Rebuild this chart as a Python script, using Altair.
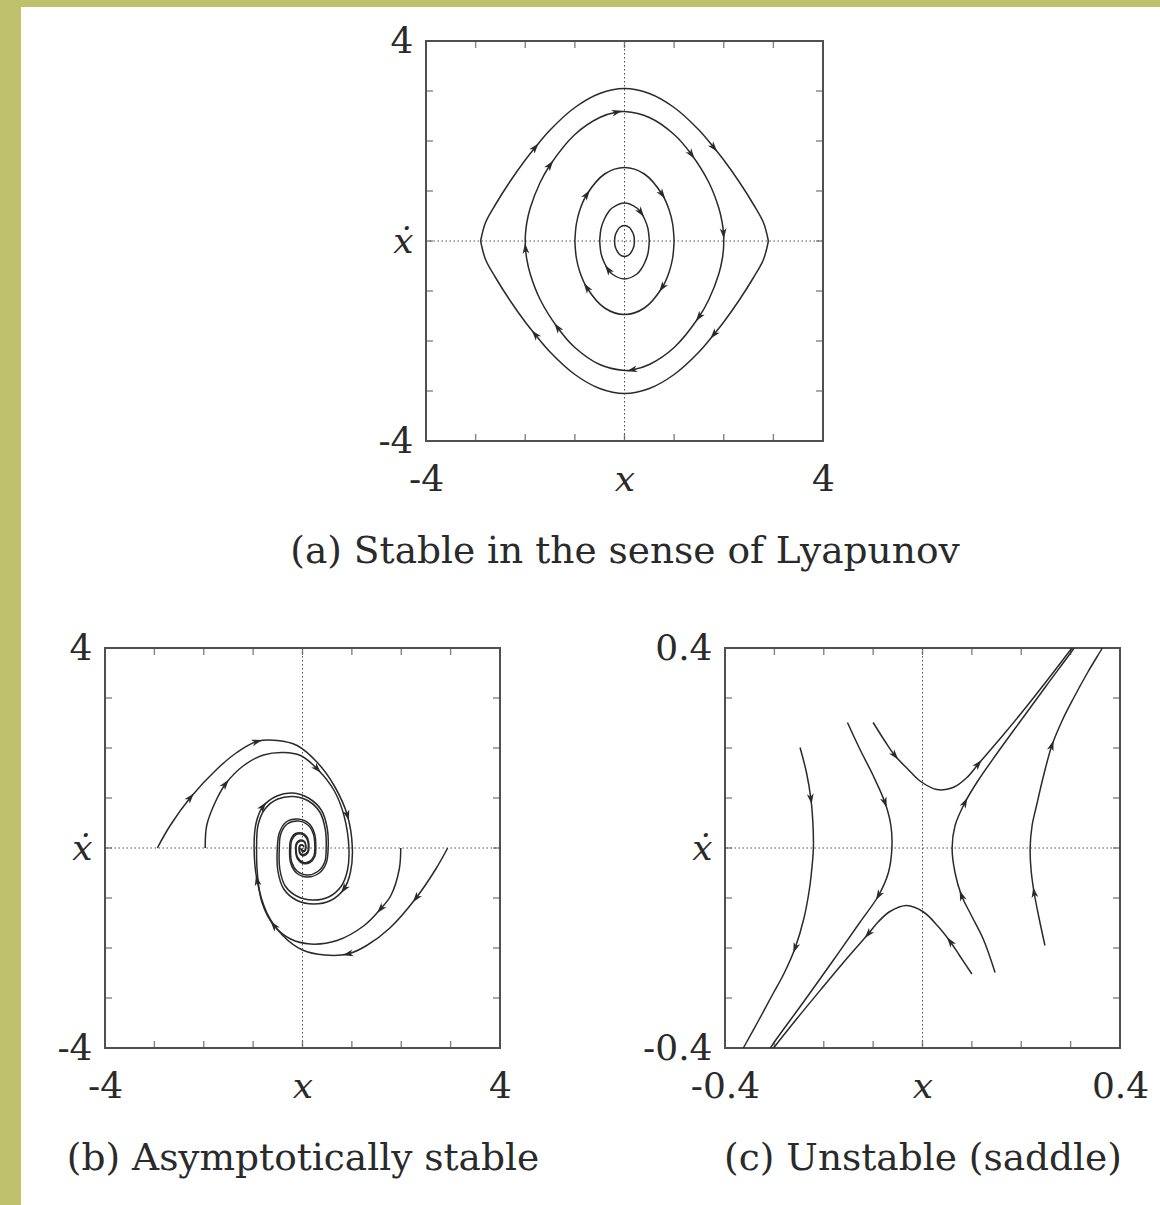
import math

import altair as alt
import pandas as pd

OLIVE = "#c0c16d"
INK = "#2a2a2a"
FRAME = "#505050"
FONT = "DejaVu Serif"
ARROW = "M1,0L-1,-0.65L-0.45,0L-1,0.65Z"

# ---------------------------------------------------------------- panel (a)
# closed orbits of an undamped pendulum, listed in the direction of motion
A1_UPPER = [(-2.9, 0.0), (-2.8, 0.37), (-2.6, 0.73), (-2.3, 1.20), (-2.0, 1.62), (-1.8, 1.87),
            (-1.5, 2.22), (-1.0, 2.67), (-0.5, 2.95), (0.0, 3.05), (0.5, 2.95), (1.0, 2.67),
            (1.5, 2.22), (1.8, 1.87), (2.0, 1.62), (2.3, 1.20), (2.6, 0.73), (2.8, 0.37), (2.9, 0.0)]
A1_LOWER = [(2.9, 0.0), (2.8, -0.37), (2.6, -0.73), (2.3, -1.20), (2.0, -1.62), (1.8, -1.87),
            (1.5, -2.22), (1.0, -2.67), (0.5, -2.95), (0.0, -3.05), (-0.5, -2.95), (-1.0, -2.67),
            (-1.5, -2.22), (-1.8, -1.87), (-2.0, -1.62), (-2.3, -1.20), (-2.6, -0.73), (-2.8, -0.37),
            (-2.9, 0.0)]
A2_UPPER = [(-2.0, 0.0), (-1.995, 0.15), (-1.97, 0.36), (-1.9, 0.66), (-1.7, 1.17), (-1.5, 1.52),
            (-1.0, 2.13), (-0.5, 2.47), (-0.15, 2.58), (0.0, 2.59), (0.5, 2.47), (1.0, 2.13),
            (1.35, 1.73), (1.7, 1.17), (1.9, 0.66), (1.97, 0.36), (1.995, 0.15), (2.0, 0.0)]
A2_LOWER = [(2.0, 0.0), (1.995, -0.15), (1.97, -0.36), (1.9, -0.66), (1.7, -1.17), (1.5, -1.52),
            (1.0, -2.13), (0.5, -2.47), (0.15, -2.58), (0.0, -2.59), (-0.5, -2.47), (-1.0, -2.13),
            (-1.35, -1.73), (-1.7, -1.17), (-1.9, -0.66), (-1.97, -0.36), (-1.995, -0.15), (-2.0, 0.0)]
A3_UPPER = [(-1.0, 0.0), (-0.97, 0.34), (-0.9, 0.62), (-0.76, 0.93), (-0.4, 1.34), (0.0, 1.47),
            (0.4, 1.34), (0.76, 0.93), (0.9, 0.62), (0.97, 0.34), (1.0, 0.0)]
A3_LOWER = [(1.0, 0.0), (0.97, -0.34), (0.9, -0.62), (0.76, -0.93), (0.4, -1.34), (0.0, -1.47),
            (-0.4, -1.34), (-0.76, -0.93), (-0.9, -0.62), (-0.97, -0.34), (-1.0, 0.0)]
A4_UPPER = [(-0.5, 0.0), (-0.47, 0.26), (-0.4, 0.45), (-0.33, 0.57), (-0.25, 0.66), (0.0, 0.76),
            (0.25, 0.66), (0.33, 0.57), (0.4, 0.45), (0.47, 0.26), (0.5, 0.0)]
A4_LOWER = [(0.5, 0.0), (0.47, -0.26), (0.4, -0.45), (0.33, -0.57), (0.25, -0.66), (0.0, -0.76),
            (-0.25, -0.66), (-0.33, -0.57), (-0.4, -0.45), (-0.47, -0.26), (-0.5, 0.0)]
A5_UPPER = [(-0.2, 0.0), (-0.19, 0.10), (-0.16, 0.18), (-0.1, 0.27), (0.0, 0.31), (0.1, 0.27),
            (0.16, 0.18), (0.19, 0.10), (0.2, 0.0)]
A5_LOWER = [(0.2, 0.0), (0.19, -0.10), (0.16, -0.18), (0.1, -0.27), (0.0, -0.31), (-0.1, -0.27),
            (-0.16, -0.18), (-0.19, -0.10), (-0.2, 0.0)]
A_ARROWS = [("a1u", 5), ("a1u", 13), ("a1l", 5), ("a1l", 13),
            ("a2u", 5), ("a2u", 8), ("a2u", 12), ("a2u", 16),
            ("a2l", 5), ("a2l", 8), ("a2l", 12), ("a2l", 16),
            ("a3u", 3), ("a3u", 7), ("a3l", 3), ("a3l", 7),
            ("a4u", 7), ("a4l", 7)]

# ---------------------------------------------------------------- panel (b)
# damped oscillator: four trajectories spiralling into the origin
B1 = [(-2.94, 0.0), (-2.68, 0.45), (-2.27, 1.01), (-1.73, 1.58), (-1.33, 1.91), (-0.92, 2.13),
      (-0.51, 2.15), (-0.11, 2.05), (0.30, 1.71), (0.64, 1.25), (0.91, 0.65), (1.01, 0.0),
      (0.97, -0.49), (0.84, -0.82), (0.57, -1.05), (0.23, -1.12), (-0.11, -1.05), (-0.38, -0.82),
      (-0.50, -0.45), (-0.51, 0.0), (-0.47, 0.30), (-0.33, 0.52), (-0.10, 0.58), (0.12, 0.50),
      (0.24, 0.30), (0.27, 0.0), (0.25, -0.17), (0.15, -0.29), (0.02, -0.31), (-0.10, -0.22),
      (-0.14, 0.0), (-0.12, 0.10), (-0.04, 0.16), (0.04, 0.13), (0.07, 0.0), (0.05, -0.06),
      (0.0, -0.07), (-0.03, -0.03), (-0.03, 0.0)]
B2 = [(-1.97, 0.0), (-1.94, 0.45), (-1.77, 0.91), (-1.56, 1.28), (-1.19, 1.65), (-0.79, 1.86),
      (-0.38, 1.91), (-0.04, 1.85), (0.30, 1.58), (0.64, 1.15), (0.84, 0.65), (0.94, 0.0),
      (0.91, -0.45), (0.78, -0.77), (0.53, -0.98), (0.21, -1.04), (-0.10, -0.97), (-0.35, -0.76),
      (-0.46, -0.42), (-0.47, 0.0), (-0.44, 0.28), (-0.31, 0.48), (-0.09, 0.54), (0.11, 0.46),
      (0.22, 0.28), (0.25, 0.0), (0.23, -0.16), (0.14, -0.27), (0.02, -0.29), (-0.09, -0.20),
      (-0.13, 0.0), (-0.11, 0.09), (-0.04, 0.14), (0.04, 0.12), (0.06, 0.0), (0.04, -0.05),
      (0.0, -0.05), (-0.02, -0.02)]
B3 = [(2.94, 0.0), (2.70, -0.42), (2.30, -1.00), (1.77, -1.60), (1.30, -1.95), (0.92, -2.12),
      (0.45, -2.14), (0.0, -2.04), (-0.40, -1.75), (-0.72, -1.30), (-0.92, -0.65), (-0.98, 0.0),
      (-0.94, 0.50), (-0.80, 0.83), (-0.52, 1.04), (-0.20, 1.10), (0.12, 1.00), (0.38, 0.76),
      (0.50, 0.40), (0.52, 0.0), (0.48, -0.30), (0.34, -0.50), (0.10, -0.58), (-0.12, -0.50),
      (-0.24, -0.30), (-0.26, 0.0), (-0.24, 0.16), (-0.14, 0.29), (-0.02, 0.30), (0.09, 0.22),
      (0.13, 0.0), (0.11, -0.09), (0.04, -0.15), (-0.04, -0.13), (-0.07, 0.0), (-0.05, 0.06),
      (0.0, 0.06), (0.03, 0.02)]
B4 = [(1.99, 0.0), (1.96, -0.42), (1.79, -0.95), (1.58, -1.22), (1.25, -1.55), (0.70, -1.85),
      (0.16, -1.92), (-0.24, -1.82), (-0.58, -1.55), (-0.82, -1.09), (-0.91, -0.55), (-0.93, 0.0),
      (-0.90, 0.46), (-0.76, 0.78), (-0.50, 0.98), (-0.18, 1.03), (0.12, 0.94), (0.35, 0.72),
      (0.46, 0.38), (0.48, 0.0), (0.45, -0.28), (0.31, -0.47), (0.09, -0.54), (-0.11, -0.46),
      (-0.22, -0.28), (-0.24, 0.0), (-0.22, 0.15), (-0.13, 0.27), (-0.02, 0.28), (0.08, 0.20),
      (0.12, 0.0), (0.10, -0.08), (0.03, -0.13), (-0.04, -0.11), (-0.06, 0.0), (-0.04, 0.05),
      (0.0, 0.05)]
B_ARROWS = [("b1", 2), ("b1", 5), ("b1", 10), ("b1", 13), ("b2", 3), ("b2", 8),
            ("b3", 2), ("b3", 5), ("b3", 10), ("b3", 13), ("b4", 3), ("b4", 8)]

# ---------------------------------------------------------------- panel (c)
# saddle point: hyperbolic trajectories around the origin
C1 = [(-0.248, 0.201), (-0.235, 0.151), (-0.226, 0.098), (-0.222, 0.050), (-0.221, 0.0),
      (-0.224, -0.040), (-0.229, -0.082), (-0.240, -0.140), (-0.258, -0.200), (-0.280, -0.250),
      (-0.302, -0.290), (-0.332, -0.345), (-0.360, -0.395), (-0.363, -0.4)]
C2 = [(-0.152, 0.251), (-0.127, 0.198), (-0.100, 0.145), (-0.076, 0.091), (-0.064, 0.045),
      (-0.062, 0.0), (-0.069, -0.049), (-0.089, -0.095), (-0.127, -0.149), (-0.181, -0.225),
      (-0.241, -0.308), (-0.300, -0.388), (-0.308, -0.4)]
C3 = [(-0.100, 0.251), (-0.075, 0.212), (-0.056, 0.185), (-0.030, 0.158), (-0.005, 0.134),
      (0.029, 0.117), (0.062, 0.121), (0.090, 0.141), (0.113, 0.168), (0.160, 0.222),
      (0.210, 0.282), (0.260, 0.345), (0.302, 0.399), (0.303, 0.4)]
C4 = [(0.100, -0.252), (0.075, -0.215), (0.056, -0.187), (0.030, -0.155), (0.002, -0.128),
      (-0.032, -0.115), (-0.066, -0.127), (-0.090, -0.148), (-0.110, -0.172), (-0.155, -0.223),
      (-0.205, -0.282), (-0.255, -0.342), (-0.300, -0.398), (-0.3015, -0.4)]
C5 = [(0.147, -0.249), (0.123, -0.182), (0.099, -0.135), (0.079, -0.095), (0.066, -0.050),
      (0.060, 0.0), (0.066, 0.045), (0.086, 0.091), (0.110, 0.131), (0.150, 0.188),
      (0.200, 0.256), (0.250, 0.3235), (0.305, 0.397), (0.307, 0.4)]
C6 = [(0.248, -0.195), (0.236, -0.140), (0.226, -0.089), (0.220, -0.045), (0.218, 0.0),
      (0.222, 0.045), (0.231, 0.085), (0.244, 0.140), (0.262, 0.205), (0.283, 0.255),
      (0.305, 0.298), (0.335, 0.352), (0.363, 0.398), (0.364, 0.4)]
C_ARROWS = [("c1", 2), ("c1", 8), ("c2", 3), ("c2", 7), ("c3", 2), ("c3", 8),
            ("c4", 2), ("c4", 8), ("c5", 3), ("c5", 7), ("c6", 2), ("c6", 8)]

# axis extents, tick positions and end labels
LIM_AB = 4
LIM_C = 0.4
TICKS_AB = [-3, -2, -1, 0, 1, 2, 3]
TICKS_C = [-0.3, -0.2, -0.1, 0.0, 0.1, 0.2, 0.3]
END_LABELS_AB = ["-4", "4"]
END_LABELS_C = ["-0.4", "0.4"]
CAPTIONS = ["(a) Stable in the sense of Lyapunov",
            "(b) Asymptotically stable",
            "(c) Unstable (saddle)"]

PANEL_W = 396
PANEL_H = 400


def curve_frame(curves):
    rows = []
    for name, pts in curves.items():
        for i, (x, y) in enumerate(pts):
            rows.append({"curve": name, "seq": i, "x": x, "y": y})
    return pd.DataFrame(rows)


def arrow_frame(curves, marks, sx, sy):
    # arrowheads sit on a trajectory point and face along the direction of travel
    rows = []
    for name, i in marks:
        pts = curves[name]
        xa, ya = pts[max(i - 1, 0)]
        xb, yb = pts[min(i + 1, len(pts) - 1)]
        heading = math.degrees(math.atan2((yb - ya) * sy, (xb - xa) * sx))
        rows.append({"x": pts[i][0], "y": pts[i][1], "angle": (-heading) % 360})
    return pd.DataFrame(rows)


def panel(curves, marks, lim, ticks, end_labels, caption, width, height):
    sx = width / (2 * lim)
    sy = height / (2 * lim)
    xs = alt.Scale(domain=[-lim, lim], nice=False, zero=False)
    ys = alt.Scale(domain=[-lim, lim], nice=False, zero=False)
    lo, hi = end_labels
    italic_at_zero = {"condition": {"test": "datum.value == 0", "value": "italic"}, "value": "normal"}
    common = dict(domain=False, ticks=False, grid=False, labelFlush=False, labelOverlap=False,
                  labelFont=FONT, labelFontSize=36, labelColor=INK, labelFontStyle=italic_at_zero)
    x_axis = alt.Axis(values=[-lim, 0, lim],
                      labelExpr=f"datum.value < 0 ? '{lo}' : datum.value > 0 ? '{hi}' : 'x'",
                      labelPadding=21, title=caption, titleFont=FONT, titleFontSize=37.5,
                      titleFontWeight="normal", titleColor=INK, titlePadding=35, **common)
    y_axis = alt.Axis(values=[-lim, 0, lim],
                      labelExpr=f"datum.value < 0 ? '{lo}' : datum.value > 0 ? '{hi}' : 'ẋ'",
                      labelPadding=13, title="", **common)

    def X(field):
        return alt.X(field, scale=xs, axis=x_axis)

    def Y(field):
        return alt.Y(field, scale=ys, axis=y_axis)

    zero = alt.Chart(pd.DataFrame({"z": [0.0]}))
    dotted = dict(color=FRAME, strokeWidth=1, strokeDash=[1.5, 2.5])
    vzero = zero.mark_rule(**dotted).encode(x=X("z:Q"))
    hzero = zero.mark_rule(**dotted).encode(y=Y("z:Q"))

    edges = pd.DataFrame([{"t": t, "e": e} for t in ticks for e in (-lim, lim)])
    tick_style = dict(size=14, thickness=1.4, color=FRAME, clip=True)
    xticks = alt.Chart(edges).mark_tick(orient="vertical", **tick_style).encode(
        x=X("t:Q"), y=Y("e:Q"))
    yticks = alt.Chart(edges).mark_tick(orient="horizontal", **tick_style).encode(
        x=X("e:Q"), y=Y("t:Q"))

    lines = alt.Chart(curve_frame(curves)).mark_line(
        interpolate="catmull-rom", color=INK, strokeWidth=1.5, clip=True
    ).encode(x=X("x:Q"), y=Y("y:Q"), detail="curve:N", order="seq:Q")
    heads = alt.Chart(arrow_frame(curves, marks, sx, sy)).mark_point(
        shape=ARROW, filled=True, size=110, color=INK, opacity=1, strokeWidth=0
    ).encode(x=X("x:Q"), y=Y("y:Q"), angle=alt.Angle("angle:Q", scale=None))
    return alt.layer(vzero, hzero, xticks, yticks, lines, heads).properties(
        width=width, height=height,
        view=alt.ViewBackground(stroke=FRAME, strokeWidth=2),
    )


def blank(width, height, fill=None):
    base = alt.Chart(pd.DataFrame({"v": [0]})).mark_point(opacity=0, size=1).encode(
        x=alt.value(1), y=alt.value(1))
    if fill:
        return base.properties(width=width, height=height,
                               view=alt.ViewBackground(fill=fill, strokeWidth=0))
    return base.properties(width=width, height=height)


panel_a = panel({"a1u": A1_UPPER, "a1l": A1_LOWER, "a2u": A2_UPPER, "a2l": A2_LOWER,
                 "a3u": A3_UPPER, "a3l": A3_LOWER, "a4u": A4_UPPER, "a4l": A4_LOWER,
                 "a5u": A5_UPPER, "a5l": A5_LOWER},
                A_ARROWS, LIM_AB, TICKS_AB, END_LABELS_AB, CAPTIONS[0], PANEL_W + 1, PANEL_H)
panel_b = panel({"b1": B1, "b2": B2, "b3": B3, "b4": B4},
                B_ARROWS, LIM_AB, TICKS_AB, END_LABELS_AB, CAPTIONS[1], PANEL_W - 1, PANEL_H)
panel_c = panel({"c1": C1, "c2": C2, "c3": C3, "c4": C4, "c5": C5, "c6": C6},
                C_ARROWS, LIM_C, TICKS_C, END_LABELS_C, CAPTIONS[2], PANEL_W - 1, PANEL_H)

row_a = alt.hconcat(blank(405, 588), panel_a, spacing=0, bounds="flush")
row_b = alt.hconcat(blank(84, 10), panel_b, blank(225, 10), panel_c, spacing=0, bounds="flush")
main = alt.vconcat(blank(10, 15), row_a, row_b, spacing=0)
body = alt.hconcat(blank(21, 1198, OLIVE), main, spacing=0, bounds="flush")
chart = alt.vconcat(blank(1160, 7, OLIVE), body, spacing=0, bounds="flush").properties(
    padding=0
).configure(background="white").configure_view(strokeWidth=0)

chart.save("out.html", embed_options={"renderer": "svg", "actions": False})
